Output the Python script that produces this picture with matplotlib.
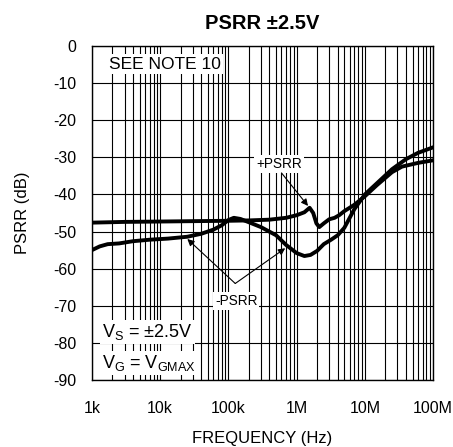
import matplotlib
matplotlib.use('Agg')
import matplotlib.pyplot as plt
from matplotlib.ticker import LogLocator, NullFormatter

plt.rcParams['font.family'] = ['Liberation Sans', 'DejaVu Sans']
plt.rcParams['axes.unicode_minus'] = False

# +PSRR
pos_freq = [1e3, 3e3, 1e4, 3e4, 1e5, 2e5, 4e5, 7e5, 1.0e6, 1.3e6, 1.55e6, 1.75e6,
            1.95e6, 2.15e6, 2.5e6, 3.0e6, 3.6e6, 4.2e6, 5e6, 7e6, 1e7, 1.5e7,
            2.5e7, 3.5e7, 6e7, 1e8]
pos_db = [-47.6, -47.4, -47.3, -47.2, -47.1, -47.0, -46.8, -46.3, -45.6, -44.8, -43.6, -45.0,
          -47.8, -48.8, -47.8, -46.7, -46.3, -45.6, -44.5, -42.8, -40.5, -37.5,
          -34.0, -32.5, -31.5, -30.8]

# -PSRR
neg_freq = [1e3, 1.3e3, 1.7e3, 2.5e3, 4e3, 7e3, 1.3e4, 2.5e4, 4e4, 6e4, 8e4, 1e5,
            1.2e5, 1.5e5, 2e5, 3e5, 5e5, 7e5, 1e6, 1.3e6, 1.6e6, 2e6, 2.5e6, 3.2e6,
            4e6, 5e6, 7e6, 1e7, 1.5e7, 2.5e7, 4e7, 6e7, 1e8]
neg_db = [-55.0, -54.0, -53.4, -53.2, -52.6, -52.2, -51.9, -51.4, -50.6, -49.5, -48.3, -46.9,
          -46.3, -46.6, -47.5, -48.8, -51.0, -53.6, -55.8, -56.6, -56.3, -55.2, -53.4, -52.2,
          -51.0, -49.0, -44.0, -40.0, -37.0, -33.2, -30.5, -28.8, -27.3]

x_ticks = [1e3, 1e4, 1e5, 1e6, 1e7, 1e8]
x_labels = ['1k', '10k', '100k', '1M', '10M', '100M']
y_ticks = list(range(-90, 1, 10))

fig = plt.figure(figsize=(4.53, 4.47), dpi=100)
ax = fig.add_axes([0.203, 0.150, 0.753, 0.747])

ax.plot(pos_freq, pos_db, color='black', lw=2.8, solid_capstyle='round')
ax.plot(neg_freq, neg_db, color='black', lw=2.8, solid_capstyle='round')

ax.set_xscale('log')
ax.set_xlim(1e3, 1e8)
ax.set_ylim(-90, 0)
ax.set_xticks(x_ticks)
ax.set_xticklabels(x_labels)
ax.xaxis.set_minor_locator(LogLocator(base=10, subs=range(2, 10)))
ax.xaxis.set_minor_formatter(NullFormatter())
ax.set_yticks(y_ticks)
ax.tick_params(which='both', length=0, labelsize=11.5)
ax.tick_params(axis='x', pad=15)
ax.tick_params(axis='y', pad=11)
ax.grid(which='both', axis='x', color='black', lw=0.8)
ax.grid(which='major', axis='y', color='black', lw=0.8)
for s in ax.spines.values():
    s.set_linewidth(1.0)

ax.set_title('PSRR ±2.5V', fontsize=14.5, fontweight='bold', pad=12)
ax.set_xlabel('FREQUENCY (Hz)', fontsize=12, labelpad=11)
ax.set_ylabel('PSRR (dB)', fontsize=12, labelpad=17)

box = dict(facecolor='white', edgecolor='none', pad=1.5)
ax.text(0.214, 0.946, 'SEE NOTE 10', transform=ax.transAxes, ha='center', va='center',
        fontsize=12.5, bbox=box)
ax.text(0.03, 0.144, r'V$_\mathregular{S}$ = ±2.5V', transform=ax.transAxes,
        ha='left', va='center', fontsize=13, bbox=box)
ax.text(0.03, 0.051, r'V$_\mathregular{G}$ = V$_\mathregular{GMAX}$', transform=ax.transAxes,
        ha='left', va='center', fontsize=13, bbox=box)

arrow = dict(arrowstyle='-|>', color='black', lw=0.8, mutation_scale=10, shrinkA=0, shrinkB=0)
ax.text(5.5e5, -31.8, '+PSRR', ha='center', va='center', fontsize=9.8, bbox=box)
ax.annotate('', xy=(1.47e6, -43.1), xytext=(6.0e5, -34.2), arrowprops=arrow)

ax.text(1.3e5, -68.6, '-PSRR', ha='center', va='center', fontsize=9.8, bbox=box)
ax.annotate('', xy=(2.5e4, -52.0), xytext=(1.26e5, -64.0), arrowprops=arrow)
ax.annotate('', xy=(6.8e5, -54.5), xytext=(1.26e5, -64.0), arrowprops=arrow)

fig.savefig('out.png', dpi=100)
